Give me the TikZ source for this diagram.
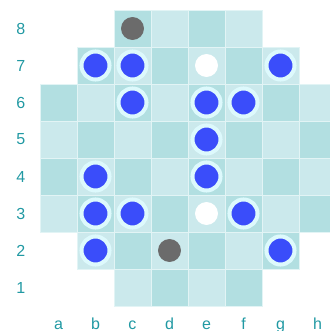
\documentclass[tikz,border=0pt]{standalone}
\usepackage{fontspec}
\usepackage{tikz}
\newfontfamily\boardfont{Liberation Sans}
\definecolor{BoardDark}{HTML}{B2DFE1}
\definecolor{BoardLight}{HTML}{CBE9EC}
\definecolor{BoardLine}{HTML}{E2F4F5}
\definecolor{LabelTeal}{HTML}{2199A3}
\definecolor{StoneBlue}{HTML}{3A4DFA}
\definecolor{StoneRing}{HTML}{DDF9FC}
\definecolor{StoneGrey}{HTML}{6B6B6B}
\tikzset{
  boardsq/.style={draw=BoardLine,line width=0.6pt},
  coordlabel/.style={text=LabelTeal,font=\boardfont\fontsize{12.3}{14}\selectfont,inner sep=0pt},
  bluestone/.style={circle,fill=StoneBlue,draw=StoneRing,line width=3.1pt,minimum size=7.57mm,inner sep=0pt},
  greystone/.style={circle,fill=StoneGrey,minimum size=6.2mm,inner sep=0pt},
  whitestone/.style={circle,fill=white,minimum size=6.2mm,inner sep=0pt}
}

\begin{document}
\begin{tikzpicture}[x=1cm,y=1cm]
\useasboundingbox (-1.0811,-0.6757) rectangle (7.8378,8.2703);
% board squares, row by row
\foreach \r/\from/\to in {1/3/6,2/2/7,3/1/8,4/1/8,5/1/8,6/1/8,7/2/7,8/3/6}{
  \foreach \c in {\from,...,\to}{
    \pgfmathtruncatemacro\shade{mod(\c+\r,2)}
    \ifnum\shade=1 \def\sqcol{BoardDark}\else\def\sqcol{BoardLight}\fi
    \draw[boardsq,fill=\sqcol] (\c-1,\r-1) rectangle (\c,\r);
  }
}
% coordinates
\foreach \r in {1,...,8}
  \node[coordlabel] (rank\r) at (-0.52,\r-0.5) {\r};
\foreach \f [count=\c] in {a,b,c,d,e,f,g,h}
  \node[coordlabel,anchor=base] (file\f) at (\c-0.5,-0.635) {\f};
% stones
\foreach \f/\c/\r in {b/2/7,c/3/7,g/7/7,c/3/6,e/5/6,f/6/6,e/5/5,b/2/4,e/5/4,b/2/3,c/3/3,f/6/3,b/2/2,g/7/2}
  \node[bluestone] (\f\r) at (\c-0.5,\r-0.5) {};
\node[greystone] (c8) at (2.5,7.5) {};
\node[greystone] (d2) at (3.5,1.5) {};
\node[whitestone] (e7) at (4.5,6.5) {};
\node[whitestone] (e3) at (4.5,2.5) {};
\end{tikzpicture}
\end{document}
